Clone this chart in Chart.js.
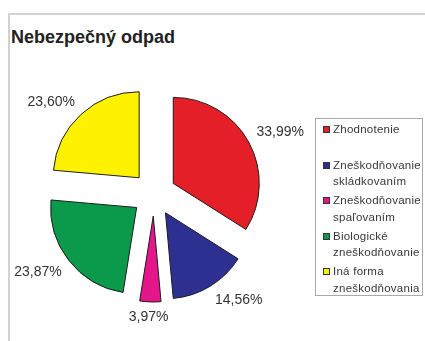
<!DOCTYPE html>
<html lang="sk">
<head>
<meta charset="utf-8">
<title>Nebezpečný odpad</title>
<script src="https://cdn.jsdelivr.net/npm/chart.js@4/dist/chart.umd.min.js"></script>
<style>
    body { margin: 0; background: #fff; font-family: "Liberation Sans", Arial, sans-serif; }
    #wrap { position: relative; width: 425px; height: 341px; overflow: hidden; }
    #ram { position: absolute; left: 8px; top: 13px; right: -4px; bottom: -4px;
           border-top: 2px solid #d2d2d2; border-left: 2px solid #d2d2d2; }
    #graf { position: absolute; left: 0; top: 0; }
    #titulok { position: absolute; left: 11px; top: 27px; font-size: 18px; line-height: 20px;
               font-weight: bold; color: #222; white-space: nowrap; }
    #legenda { position: absolute; left: 315px; top: 118px; width: 108px; height: 178px;
               border: 1px solid #a8a8a8; box-sizing: border-box; padding-top: 2px; }
    .polozka { position: relative; height: 35.5px; padding-left: 17px; font-size: 11.5px;
               line-height: 16.5px; color: #383838; white-space: nowrap; letter-spacing: 0.25px; }
    .znacka { position: absolute; left: 7px; top: 5px; width: 7px; height: 7px;
              border: 1px solid #333; box-sizing: border-box; }
</style>
</head>
<body>
<div id="wrap">
    <div id="ram"></div>
    <div id="titulok">Nebezpečný odpad</div>
    <canvas id="graf" width="425" height="341"></canvas>
    <div id="legenda"></div>
</div>
<script>
// Kategorie a podiely (%)
const kategorie = [
    ['Zhodnotenie'],
    ['Zneškodňovanie', 'skládkovaním'],
    ['Zneškodňovanie', 'spaľovaním'],
    ['Biologické', 'zneškodňovanie'],
    ['Iná forma', 'zneškodňovania']
];
const podiely = [33.99, 14.56, 3.97, 23.87, 23.60];
const farby = ['#e41f27', '#2e3091', '#e5168c', '#0b9a4b', '#fff200'];

const ODSUN = 22; // vysunutie vysekov od stredu

// Vysunute vyseky - kazdy obluk posunuty v smere svojho stredneho uhla
const vysunutie = {
    id: 'vysunutie',
    beforeDatasetDraw(chart, args) {
        const ctx = chart.ctx;
        args.meta.data.forEach(arc => {
            const uhol = (arc.startAngle + arc.endAngle) / 2;
            ctx.save();
            ctx.translate(Math.cos(uhol) * ODSUN, Math.sin(uhol) * ODSUN);
            arc.draw(ctx);
            ctx.restore();
        });
        return false;
    }
};

// Percenta vedla vysekov
const popisky = {
    id: 'popisky',
    afterDatasetsDraw(chart) {
        const ctx = chart.ctx;
        const meta = chart.getDatasetMeta(0);
        ctx.save();
        ctx.font = '14px "Liberation Sans", Arial, sans-serif';
        ctx.fillStyle = '#333';
        ctx.textAlign = 'center';
        ctx.textBaseline = 'middle';
        meta.data.forEach((arc, i) => {
            const uhol = (arc.startAngle + arc.endAngle) / 2;
            const dx = Math.cos(uhol), dy = Math.sin(uhol);
            const r = arc.outerRadius + ODSUN + 9;
            const text = podiely[i].toFixed(2).replace('.', ',') + '%';
            const w = ctx.measureText(text).width;
            const x = arc.x + dx * r + Math.max(-1, Math.min(1, dx * 2)) * w / 2;
            const y = arc.y + dy * r + Math.max(-1, Math.min(1, dy * 2)) * 6;
            ctx.fillText(text, x, y);
        });
        ctx.restore();
    }
};

new Chart(document.getElementById('graf'), {
    type: 'pie',
    data: {
        labels: kategorie,
        datasets: [{
            data: podiely,
            backgroundColor: farby,
            borderColor: '#1c1c1c',
            borderWidth: 1,
            radius: 86
        }]
    },
    options: {
        responsive: false,
        animation: false,
        events: [],
        layout: { padding: { left: 20, right: 137, top: 100, bottom: 53 } },
        plugins: {
            legend: { display: false },
            title: { display: false },
            tooltip: { enabled: false }
        }
    },
    plugins: [vysunutie, popisky]
});

// Legenda
document.getElementById('legenda').innerHTML = kategorie.map((k, i) => `
    <div class="polozka">
        <span class="znacka" style="background:${farby[i]}"></span>
        ${k.join('<br>')}
    </div>
`).join('');
</script>
</body>
</html>
